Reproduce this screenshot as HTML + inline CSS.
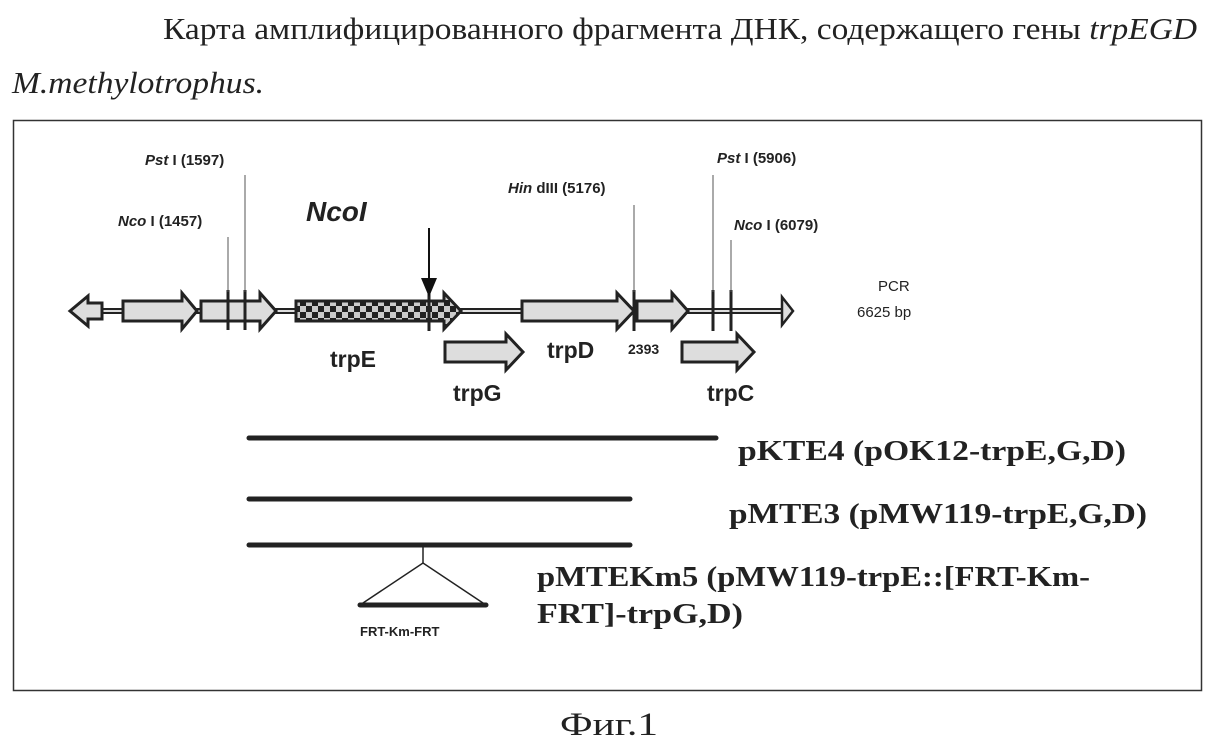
<!DOCTYPE html>
<html><head><meta charset="utf-8"><style>
html,body{margin:0;padding:0;background:#fff}
svg{display:block}
</style></head><body>
<svg width="1217" height="746" viewBox="0 0 1217 746" xmlns="http://www.w3.org/2000/svg">
<defs>
<pattern id="chk" width="12" height="12" patternUnits="userSpaceOnUse">
<rect width="12" height="12" fill="#ccc"/><rect width="6" height="6" fill="#222"/><rect x="6" y="6" width="6" height="6" fill="#222"/>
</pattern>
</defs>
<g font-family="Liberation Serif, serif" fill="#222">
<text x="163" y="39" font-size="31" textLength="1034" lengthAdjust="spacingAndGlyphs">Карта амплифицированного фрагмента ДНК, содержащего гены <tspan font-style="italic">trpEGD</tspan></text>
<text x="12" y="93" font-size="31" font-style="italic" textLength="252" lengthAdjust="spacingAndGlyphs">M.methylotrophus.</text>
<text x="560" y="735" font-size="33" textLength="98" lengthAdjust="spacingAndGlyphs">Фиг.1</text>
</g>
<rect x="13.5" y="120.5" width="1188" height="570" fill="none" stroke="#333" stroke-width="1.5"/>
<g stroke="#222" stroke-width="3" fill="#ddd">
<line x1="100" y1="311" x2="785" y2="311" stroke-width="6"/>
<line x1="100" y1="311" x2="785" y2="311" stroke="#ddd" stroke-width="2"/>
<polygon points="70,311 88,296 88,303 102,303 102,319 88,319 88,326"/>
<polygon points="123,301 182,301 182,293 197,311 182,329 182,321 123,321"/>
<polygon points="201,301 260,301 260,293 276,311 260,329 260,321 201,321"/>
<polygon points="296,301 444,301 444,293 461,311 444,329 444,321 296,321" fill="url(#chk)"/>
<polygon points="522,301 617,301 617,293 634,311 617,329 617,321 522,321"/>
<polygon points="637,301 672,301 672,293 688,311 672,329 672,321 637,321"/>
<polygon points="782,297 793,311 782,325" stroke-width="2.5"/>
<polygon points="445,342 506,342 506,334 523,352 506,370 506,362 445,362"/>
<polygon points="682,342 737,342 737,334 754,352 737,370 737,362 682,362"/>
</g>
<g stroke="#222" stroke-width="3">
<line x1="228" y1="290" x2="228" y2="330"/><line x1="245" y1="290" x2="245" y2="330"/>
<line x1="429" y1="292" x2="429" y2="331"/><line x1="634" y1="290" x2="634" y2="331"/>
<line x1="713" y1="290" x2="713" y2="331"/><line x1="731" y1="290" x2="731" y2="331"/>
</g>
<g stroke="#555" stroke-width="1">
<line x1="228" y1="237" x2="228" y2="292"/><line x1="245" y1="175" x2="245" y2="292"/>
<line x1="634" y1="205" x2="634" y2="292"/><line x1="713" y1="175" x2="713" y2="292"/><line x1="731" y1="240" x2="731" y2="292"/>
</g>
<line x1="429" y1="228" x2="429" y2="280" stroke="#111" stroke-width="2"/>
<polygon points="421,278 437,278 429,297" fill="#111"/>
<g font-family="Liberation Sans, sans-serif" font-weight="bold" fill="#222">
<text x="145" y="165" font-size="15"><tspan font-style="italic">Pst</tspan> I (1597)</text>
<text x="118" y="226" font-size="15"><tspan font-style="italic">Nco</tspan> I (1457)</text>
<text x="306" y="221" font-size="28" font-style="italic">NcoI</text>
<text x="508" y="193" font-size="15"><tspan font-style="italic">Hin</tspan> dIII (5176)</text>
<text x="717" y="163" font-size="15"><tspan font-style="italic">Pst</tspan> I (5906)</text>
<text x="734" y="230" font-size="15"><tspan font-style="italic">Nco</tspan> I (6079)</text>
<text x="330" y="367" font-size="23">trpE</text>
<text x="547" y="358" font-size="23">trpD</text>
<text x="453" y="401" font-size="23">trpG</text>
<text x="707" y="401" font-size="23">trpC</text>
<text x="628" y="354" font-size="14">2393</text>
<text x="878" y="291" font-size="15" font-weight="normal">PCR</text>
<text x="857" y="317" font-size="15" font-weight="normal">6625 bp</text>
<text x="360" y="636" font-size="13">FRT-Km-FRT</text>
</g>
<g stroke="#222" stroke-width="5" stroke-linecap="round">
<line x1="249" y1="438" x2="716" y2="438"/>
<line x1="249" y1="499" x2="630" y2="499"/>
<line x1="249" y1="545" x2="630" y2="545"/>
<line x1="360" y1="605" x2="486" y2="605"/>
</g>
<g stroke="#222" stroke-width="1.5" fill="none">
<line x1="423" y1="547" x2="423" y2="563"/>
<polyline points="360,605 423,563 486,605"/>
</g>
<g font-family="Liberation Serif, serif" font-weight="bold" fill="#222" font-size="29">
<text x="738" y="460" textLength="388" lengthAdjust="spacingAndGlyphs">pKTE4 (pOK12-trpE,G,D)</text>
<text x="729" y="523" textLength="418" lengthAdjust="spacingAndGlyphs">pMTE3 (pMW119-trpE,G,D)</text>
<text x="537" y="586" textLength="553" lengthAdjust="spacingAndGlyphs">pMTEKm5 (pMW119-trpE::[FRT-Km-</text>
<text x="537" y="623" textLength="206" lengthAdjust="spacingAndGlyphs">FRT]-trpG,D)</text>
</g>
</svg>
</body></html>
